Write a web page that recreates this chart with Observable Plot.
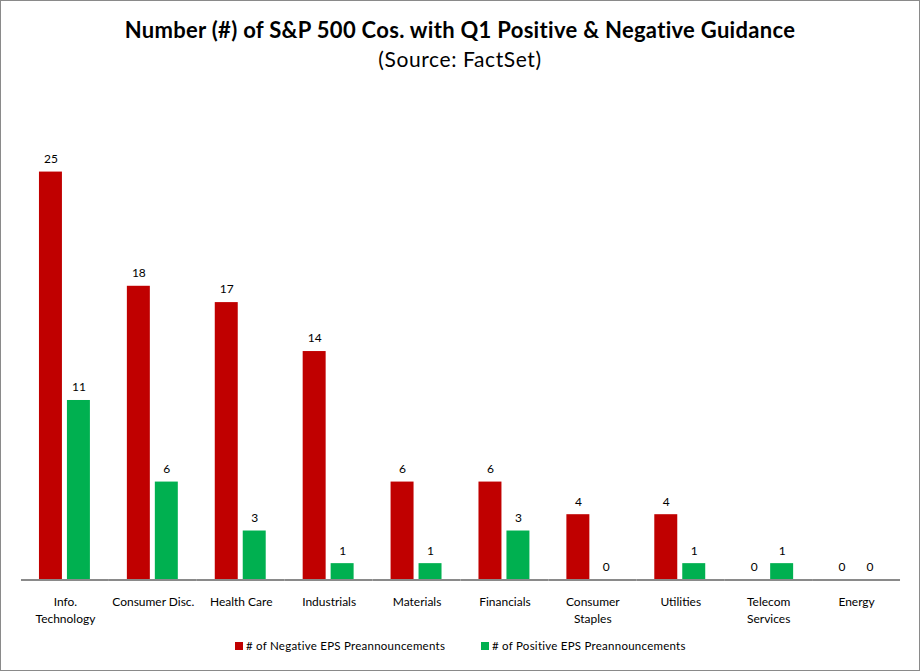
<!DOCTYPE html>
<html>
<head>
<meta charset="utf-8">
<script src="https://cdn.jsdelivr.net/npm/d3@7"></script>
<script src="https://cdn.jsdelivr.net/npm/@observablehq/plot@0.6"></script>
<style>
  html, body { margin: 0; padding: 0; background: #fff; }
  #wrap { position: relative; width: 918px; height: 669px; border: 1px solid #8a8a8a; overflow: hidden; font-family: Lato, "Open Sans", sans-serif; }
  #title { position: absolute; top: 15px; left: 0; width: 100%; text-align: center; font-weight: bold; font-size: 22px; letter-spacing: 0.3px; color: #000; }
  #subtitle { position: absolute; top: 45px; left: 0; width: 100%; text-align: center; font-size: 21px; letter-spacing: 0.6px; color: #000; }
  #chart { position: absolute; top: 84px; left: -1px; }
  #legend { position: absolute; top: 638px; left: 0; width: 100%; font-size: 11.5px; letter-spacing: 0.25px; color: #000; }
  .li { position: absolute; display: flex; align-items: center; white-space: nowrap; }
  .sw { width: 8px; height: 8px; margin-right: 3px; }
</style>
</head>
<body>
<div id="wrap">
  <div id="title">Number (#) of S&amp;P 500 Cos. with Q1 Positive &amp; Negative Guidance</div>
  <div id="subtitle">(Source: FactSet)</div>
  <div id="chart"></div>
  <div id="legend"></div>
</div>
<script>
const categories = ["Info. Technology", "Consumer Disc.", "Health Care", "Industrials", "Materials", "Financials", "Consumer Staples", "Utilities", "Telecom Services", "Energy"];
const tickLabels = ["Info.\nTechnology", "Consumer Disc.", "Health Care", "Industrials", "Materials", "Financials", "Consumer\nStaples", "Utilities", "Telecom\nServices", "Energy"];
const seriesNames = ["# of Negative EPS Preannouncements", "# of Positive EPS Preannouncements"];
const negative = [25, 18, 17, 14, 6, 6, 4, 4, 0, 0];
const positive = [11, 6, 3, 1, 1, 3, 0, 1, 1, 0];
const colors = ["#C00000", "#00B050"];

const data = [];
categories.forEach((c, i) => {
  data.push({category: c, series: seriesNames[0], value: negative[i]});
  data.push({category: c, series: seriesNames[1], value: positive[i]});
});
const labelOf = new Map(categories.map((c, i) => [c, tickLabels[i]]));

const chart = Plot.plot({
  width: 920,
  height: 545,
  marginTop: 5,
  marginBottom: 50,
  marginLeft: 17,
  marginRight: 16,
  style: {fontFamily: "Lato, 'Open Sans', sans-serif", fontSize: "12px", color: "#000"},
  fx: {domain: categories, padding: 0, label: null},
  x: {domain: seriesNames, paddingInner: 0.172, paddingOuter: 0.61, axis: null},
  y: {domain: [0, 30], axis: null},
  color: {domain: seriesNames, range: colors},
  marks: [
    Plot.barY(data, {fx: "category", x: "series", y: "value", fill: "series"}),
    Plot.ruleY([0], {stroke: "#8a8a8a", strokeWidth: 2}),
    Plot.text(data, {fx: "category", x: "series", y: "value", text: d => String(d.value), dy: -13, fill: "#000", fontSize: 12}),
    Plot.axisFx({anchor: "bottom", tickSize: 0, tickPadding: 14, tickFormat: d => labelOf.get(d), fontSize: 12, lineHeight: 1.4, label: null})
  ]
});
document.getElementById("chart").appendChild(chart);

const legend = document.getElementById("legend");
const lx = [234, 480];
seriesNames.forEach((s, i) => {
  const el = document.createElement("div");
  el.className = "li";
  el.style.left = lx[i] + "px";
  el.innerHTML = `<span class="sw" style="background:${colors[i]}"></span><span>${s}</span>`;
  legend.appendChild(el);
});
</script>
</body>
</html>
